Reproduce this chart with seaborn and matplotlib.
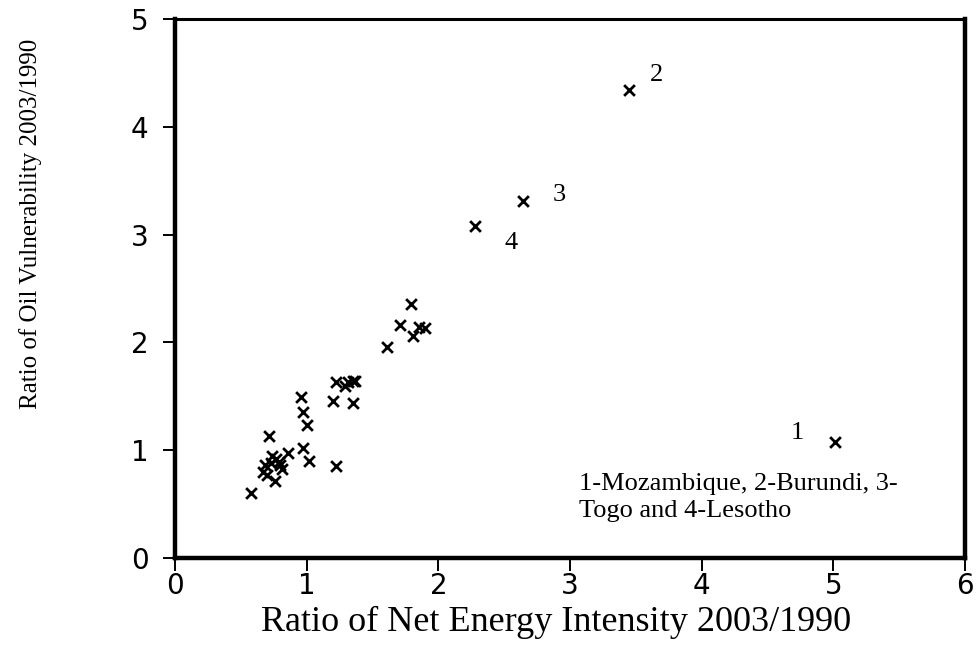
import matplotlib
matplotlib.use("Agg")
import matplotlib.pyplot as plt
import seaborn as sns
import pandas as pd

# Ratio of net energy intensity (2003/1990) per country
energy_ratio = [5.01, 3.45, 2.64, 2.28, 1.79, 1.71, 1.85, 1.90, 1.81, 1.61,
                1.22, 1.29, 1.31, 1.35, 1.37, 1.20, 1.35, 0.96, 0.97, 1.00,
                0.71, 0.97, 1.02, 1.22, 0.86, 0.74, 0.77, 0.79, 0.80, 0.68,
                0.67, 0.81, 0.70, 0.76, 0.58, 0.73]
# Ratio of oil vulnerability (2003/1990) per country
oil_ratio = [1.08, 4.34, 3.31, 3.08, 2.36, 2.16, 2.14, 2.13, 2.06, 1.96,
             1.63, 1.60, 1.63, 1.64, 1.64, 1.46, 1.44, 1.49, 1.35, 1.23,
             1.13, 1.02, 0.90, 0.85, 0.97, 0.95, 0.92, 0.89, 0.86, 0.86,
             0.80, 0.83, 0.77, 0.71, 0.60, 0.88]

# Numbered outliers: label, x, y
outlier_labels = ["1", "2", "3", "4"]
outlier_label_x = [4.73, 3.66, 2.92, 2.55]
outlier_label_y = [1.16, 4.48, 3.37, 2.92]
legend_note = "1-Mozambique, 2-Burundi, 3-\nTogo and 4-Lesotho"

x_ticks = [0, 1, 2, 3, 4, 5, 6]
y_ticks = [0, 1, 2, 3, 4, 5]

df = pd.DataFrame({"energy": energy_ratio, "oil": oil_ratio})

sns.set_theme(style="white")
plt.rcParams["font.family"] = ["DejaVu Sans"]

fig = plt.figure(figsize=(9.79, 6.61), dpi=100)
ax = fig.add_axes([0.1788, 0.1558, 0.8069, 0.8155])

sns.scatterplot(data=df, x="energy", y="oil", marker="x", color="black",
                s=60, linewidth=2.0, ax=ax, legend=False)

ax.set_xlim(0, 6)
ax.set_ylim(0, 5)
ax.set_xticks(x_ticks)
ax.set_yticks(y_ticks)
ax.set_xticklabels([str(t) for t in x_ticks], fontsize=20, family="DejaVu Sans")
ax.set_yticklabels([str(t) for t in y_ticks], fontsize=20, family="DejaVu Sans")

ax.tick_params(axis="both", which="major", direction="out", length=9,
               width=1.4, color="black", labelcolor="black",
               bottom=True, left=True, top=False, right=False)
ax.tick_params(axis="x", pad=1)
ax.tick_params(axis="y", pad=10)

for side in ["left", "bottom", "right"]:
    ax.spines[side].set_linewidth(3.2)
    ax.spines[side].set_color("black")
ax.spines["top"].set_linewidth(2.2)
ax.spines["top"].set_color("black")

serif = ["Liberation Serif", "DejaVu Serif"]
ax.set_xlabel("Ratio of Net Energy Intensity 2003/1990", fontsize=26,
              family=serif, color="black")
ax.xaxis.set_label_coords(0.482, -0.088)
ax.set_ylabel("Ratio of Oil Vulnerability 2003/1990", fontsize=18,
              family=serif, color="black")
ax.yaxis.set_label_coords(-0.168, 0.62)

for lab, lx, ly in zip(outlier_labels, outlier_label_x, outlier_label_y):
    ax.text(lx, ly, lab, fontsize=19, family=serif, color="black",
            ha="center", va="center")

ax.text(3.07, 0.56, legend_note, fontsize=19, family=serif, color="black",
        ha="left", va="center", linespacing=1.3)

fig.savefig("out.png", dpi=100)
